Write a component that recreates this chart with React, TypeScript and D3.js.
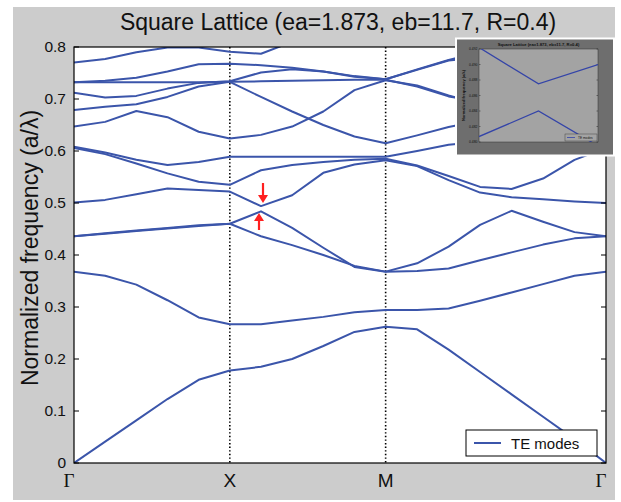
import React from "react";
import * as d3 from "d3";

const W = 621;
const H = 502;

// k-path sample positions (Γ=0, X=1, M=2, Γ=2+√2)
const kPts = [0, 0.2, 0.4, 0.6, 0.8, 1, 1.2, 1.4, 1.6, 1.8, 2, 2.202, 2.4041, 2.6061, 2.8081, 3.0102, 3.2122, 3.4142];
const kTickPos = [0, 1, 2, 3.4142];
const kTickLabels = ["Γ", "X", "M", "Γ"];
const yTicks = [0, 0.1, 0.2, 0.3, 0.4, 0.5, 0.6, 0.7, 0.8];
const yTickLabels = ["0", "0.1", "0.2", "0.3", "0.4", "0.5", "0.6", "0.7", "0.8"];

const band1 = [0, 0.041, 0.082, 0.123, 0.16, 0.178, 0.185, 0.2, 0.225, 0.252, 0.262, 0.257, 0.218, 0.175, 0.132, 0.089, 0.046, 0];
const band2 = [0.368, 0.36, 0.343, 0.313, 0.28, 0.267, 0.267, 0.274, 0.281, 0.29, 0.294, 0.294, 0.297, 0.312, 0.328, 0.344, 0.36, 0.368];
const band3 = [0.436, 0.441, 0.446, 0.451, 0.456, 0.46, 0.436, 0.419, 0.4, 0.379, 0.368, 0.369, 0.374, 0.39, 0.405, 0.42, 0.432, 0.436];
const band4 = [0.436, 0.442, 0.447, 0.452, 0.457, 0.46, 0.484, 0.452, 0.414, 0.377, 0.368, 0.384, 0.416, 0.458, 0.485, 0.464, 0.444, 0.436];
const band5 = [0.501, 0.506, 0.517, 0.528, 0.525, 0.522, 0.494, 0.515, 0.558, 0.574, 0.582, 0.571, 0.544, 0.52, 0.511, 0.507, 0.503, 0.5];
const band6 = [0.606, 0.594, 0.576, 0.557, 0.541, 0.535, 0.563, 0.573, 0.579, 0.583, 0.585, 0.572, 0.552, 0.531, 0.527, 0.547, 0.583, 0.606];
const band7 = [0.608, 0.597, 0.583, 0.573, 0.579, 0.589, 0.589, 0.589, 0.589, 0.589, 0.589, 0.6, 0.612, 0.618, 0.617, 0.613, 0.609, 0.607];
const band8 = [0.647, 0.656, 0.677, 0.665, 0.637, 0.624, 0.631, 0.647, 0.676, 0.717, 0.736, 0.726, 0.707, 0.69, 0.675, 0.662, 0.652, 0.647];
const band9 = [0.679, 0.685, 0.69, 0.704, 0.724, 0.733, 0.704, 0.676, 0.65, 0.628, 0.615, 0.63, 0.646, 0.658, 0.668, 0.675, 0.678, 0.679];
const band10 = [0.712, 0.703, 0.706, 0.72, 0.731, 0.734, 0.751, 0.757, 0.753, 0.743, 0.738, 0.757, 0.775, 0.79, 0.797, 0.792, 0.78, 0.77];
const band11 = [0.732, 0.732, 0.732, 0.732, 0.732, 0.733, 0.734, 0.735, 0.736, 0.737, 0.737, 0.724, 0.705, 0.695, 0.695, 0.7, 0.706, 0.712];
const band12 = [0.732, 0.735, 0.741, 0.753, 0.767, 0.768, 0.765, 0.76, 0.753, 0.744, 0.738, 0.756, 0.774, 0.78, 0.775, 0.762, 0.746, 0.732];
const band13 = [0.77, 0.777, 0.79, 0.799, 0.799, 0.791, 0.787, 0.81, 0.84, 0.86, 0.87, 0.86, 0.84, 0.82, 0.8, 0.78, 0.755, 0.732];
const bands = [band1, band2, band3, band4, band5, band6, band7, band8, band9, band10, band11, band12, band13];

// inset (zoom of the gap)
const insetK = [0, 1, 2];
const insetUpper = [0.4922, 0.4875, 0.49];
const insetLower = [0.4807, 0.484, 0.4795];
const insetTicks = [0.48, 0.482, 0.484, 0.486, 0.488, 0.49, 0.492];

const BLUE = "#3b55aa";
const FONT = "'Liberation Sans', Arial, Helvetica, sans-serif";

export default function App() {
  const plot = { l: 74, r: 606, t: 47, b: 463 };
  const x = d3.scaleLinear().domain([0, 2 + Math.SQRT2]).range([plot.l, plot.r]);
  const y = d3.scaleLinear().domain([0, 0.8]).range([plot.b, plot.t]);
  const line = d3
    .line<number>()
    .x((_, i) => x(kPts[i]))
    .y((d) => y(d));

  // inset scales
  const ib = { l: 479, r: 598, t: 49, b: 142 };
  const ix = d3.scaleLinear().domain([0, 2]).range([ib.l, ib.r]);
  const iy = d3.scaleLinear().domain([0.48, 0.492]).range([ib.b, ib.t]);
  const iline = d3
    .line<number>()
    .x((_, i) => ix(insetK[i]))
    .y((d) => iy(d));

  return (
    <svg
      width={W}
      height={H}
      style={{ position: "absolute", left: 0, top: 0, background: "#fff" }}
      fontFamily={FONT}
    >
      <defs>
        <clipPath id="plotclip">
          <rect x={plot.l} y={plot.t} width={plot.r - plot.l} height={plot.b - plot.t} />
        </clipPath>
        <clipPath id="insetclip">
          <rect x={ib.l} y={ib.t} width={ib.r - ib.l} height={ib.b - ib.t} />
        </clipPath>
      </defs>
      <rect x={13} y={7} width={602} height={493} fill="#cccccc" />
      <rect x={plot.l} y={plot.t} width={plot.r - plot.l} height={plot.b - plot.t} fill="#fff" />

      {/* vertical dotted lines at X and M */}
      {[1, 2].map((k) => (
        <line
          key={k}
          x1={x(k)}
          x2={x(k)}
          y1={plot.t}
          y2={plot.b}
          stroke="#000"
          strokeWidth={1.6}
          strokeDasharray="1.4,2.2"
        />
      ))}

      <g clipPath="url(#plotclip)">
        {bands.map((b, i) => (
          <path key={i} d={line(b) || ""} fill="none" stroke={BLUE} strokeWidth={2} strokeLinejoin="round" />
        ))}
      </g>

      {/* frame and ticks */}
      <rect x={plot.l} y={plot.t} width={plot.r - plot.l} height={plot.b - plot.t} fill="none" stroke="#000" strokeWidth={1.2} />
      {yTicks.map((t, i) => (
        <g key={i}>
          <line x1={plot.l} x2={plot.l + 5} y1={y(t)} y2={y(t)} stroke="#000" />
          <line x1={plot.r} x2={plot.r - 5} y1={y(t)} y2={y(t)} stroke="#000" />
          <text x={plot.l - 8} y={y(t)} dy="0.35em" textAnchor="end" fontSize={15.5} fill="#111">
            {yTickLabels[i]}
          </text>
        </g>
      ))}
      {kTickPos.map((k, i) => {
        const isGamma = kTickLabels[i] === "Γ";
        return (
          <text
            key={i}
            x={x(k) - (isGamma ? 5 : 0)}
            y={487}
            textAnchor="middle"
            fontSize={19}
            fontFamily={isGamma ? "'Liberation Serif', 'DejaVu Serif', serif" : FONT}
            fill="#111"
          >
            {kTickLabels[i]}
          </text>
        );
      })}

      <text x={338} y={30} textAnchor="middle" fontSize={23} fill="#111">
        Square Lattice (ea=1.873, eb=11.7, R=0.4)
      </text>
      <text
        transform={`translate(38,248) rotate(-90)`}
        textAnchor="middle"
        fontSize={23}
        fill="#111"
      >
        Normalized frequency (a/λ)
      </text>

      {/* red arrows */}
      <g fill="#ff2020" stroke="#ff2020">
        <line x1={263} x2={263} y1={183} y2={196} strokeWidth={2.2} />
        <path d="M258,195 L268,195 L263,203 Z" stroke="none" />
        <line x1={259} x2={259} y1={230} y2={219} strokeWidth={2.2} />
        <path d="M254,221 L264,221 L259,213 Z" stroke="none" />
      </g>

      {/* legend */}
      <rect x={466} y={430} width={131} height={26} fill="#fff" stroke="#000" strokeWidth={1} />
      <line x1={474} x2={501} y1={443} y2={443} stroke={BLUE} strokeWidth={2} />
      <text x={511} y={448.5} fontSize={15} fill="#111">
        TE modes
      </text>

      {/* inset */}
      <rect x={455} y={37.5} width={160} height={119} fill="#ffffff" />
      <rect x={457} y={39.5} width={156} height={115} fill="#6e6e6e" />
      <rect x={ib.l} y={ib.t} width={ib.r - ib.l} height={ib.b - ib.t} fill="#a3a3a3" stroke="#333" strokeWidth={0.5} />
      <text x={(ib.l + ib.r) / 2} y={46} textAnchor="middle" fontSize={4.2} fontWeight="bold" fill="#111">
        Square Lattice (ea=1.873, eb=11.7, R=0.4)
      </text>
      {insetTicks.map((t, i) => (
        <g key={i}>
          <text x={ib.l - 1.5} y={iy(t)} dy="0.35em" textAnchor="end" fontSize={3.4} fill="#111">
            {t.toFixed(3)}
          </text>
          <line x1={ib.l} x2={ib.l + 1.5} y1={iy(t)} y2={iy(t)} stroke="#222" strokeWidth={0.5} />
          <line x1={ib.r} x2={ib.r - 1.5} y1={iy(t)} y2={iy(t)} stroke="#222" strokeWidth={0.5} />
        </g>
      ))}
      <text
        transform={`translate(465,${(ib.t + ib.b) / 2}) rotate(-90)`}
        textAnchor="middle"
        fontSize={4}
        fontWeight="bold"
        fill="#111"
      >
        Normalized frequency (a/λ)
      </text>
      <g clipPath="url(#insetclip)">
        <path d={iline(insetUpper) || ""} fill="none" stroke="#3444a8" strokeWidth={1.3} />
        <path d={iline(insetLower) || ""} fill="none" stroke="#3444a8" strokeWidth={1.3} />
      </g>
      <rect x={565} y={134} width={32} height={7} fill="#a3a3a3" stroke="#333" strokeWidth={0.4} />
      <line x1={567} x2={575} y1={137.5} y2={137.5} stroke="#3444a8" strokeWidth={0.8} />
      <text x={578} y={139} fontSize={3.2} fill="#111">
        TE modes
      </text>
    </svg>
  );
}
